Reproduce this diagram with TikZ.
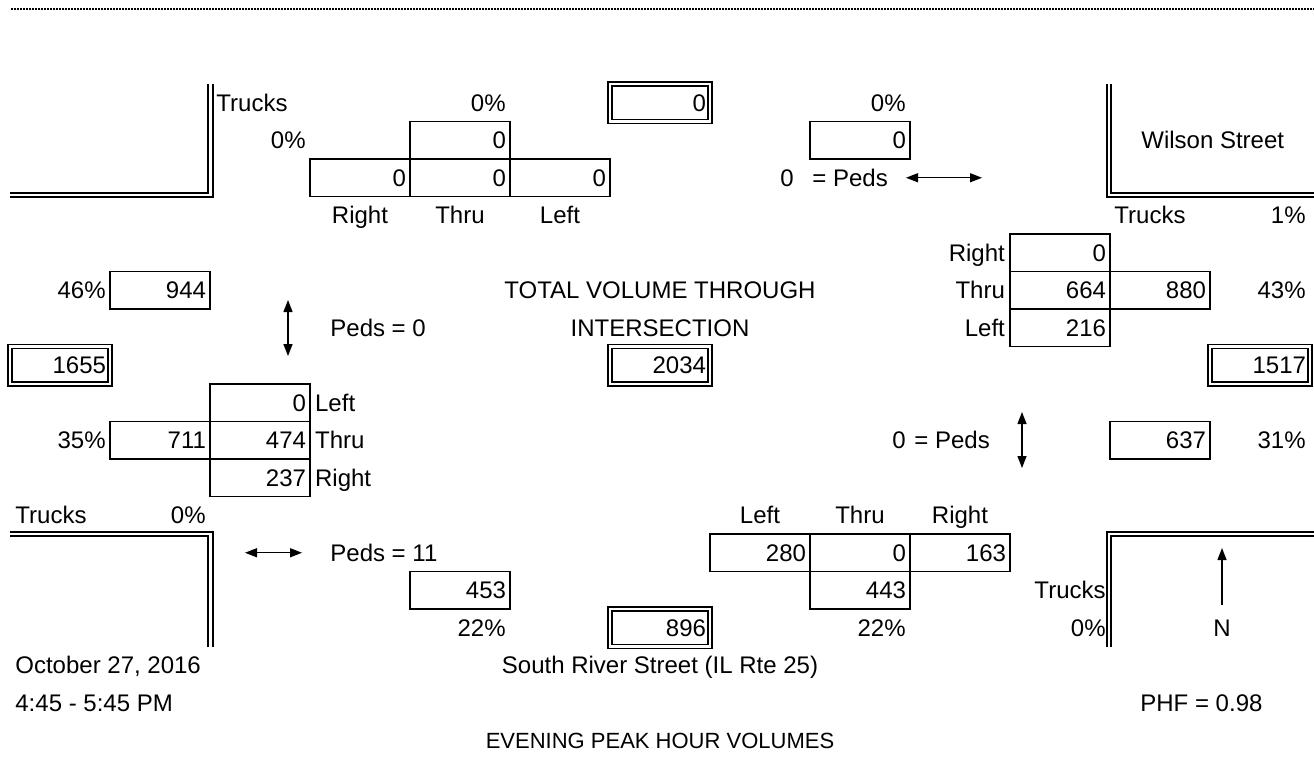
\documentclass[tikz,border=0pt]{standalone}
\usepackage{fontspec}
\setmainfont{Liberation Sans}
\usepackage{tikz}
\usetikzlibrary{shapes, arrows.meta, positioning}
\tikzstyle{cell} = [draw, rectangle, line width=0.75pt, minimum height=18.75pt, minimum width=50pt, text width=46pt, align=right, inner xsep=2pt, inner ysep=0pt, text height=8.6pt, text depth=0pt]
\tikzstyle{dcell} = [cell, double, double distance=1.25pt]
\tikzstyle{lbl} = [inner sep=2pt, text height=8.6pt, text depth=0pt]
\tikzstyle{rlbl} = [lbl, anchor=east]
\tikzstyle{llbl} = [lbl, anchor=west]
\tikzstyle{road} = [line width=1pt]
\tikzstyle{ped} = [line width=0.7pt]

\begin{document}
\begin{tikzpicture}[auto, x=0.5pt, y=-0.5pt, node distance=50pt, >={Triangle[length=6pt, width=4.5pt]}, font=\fontsize{12}{14}\selectfont]
        \useasboundingbox (0,0) rectangle (1314,757);

        % 顶部虚线
        \draw [line width=1.3pt, dash pattern=on 1pt off 0.5pt] (11,9) -- (1314,9);

        % 路口边线
        \draw [road] (10,193) -- (208,193) -- (208,84);
        \draw [road] (10,197) -- (213,197) -- (213,84);
        \draw [road] (1314,193) -- (1111,193) -- (1111,84);
        \draw [road] (1314,197) -- (1107,197) -- (1107,84);
        \draw [road] (10,532) -- (213,532) -- (213,647);
        \draw [road] (10,536) -- (208,536) -- (208,647);
        \draw [road] (1314,532) -- (1107,532) -- (1107,647);
        \draw [road] (1314,536) -- (1111,536) -- (1111,647);

        % 北进口
        \node [cell] (sbR) at (360,177.75) {0};
        \node [cell, right of=sbR] (sbT) {0};
        \node [cell, right of=sbT] (sbL) {0};
        \node [cell, above of=sbT, node distance=18.75pt] (sbIn) {0};
        \node [lbl, below of=sbR, node distance=18.75pt] (sbRlbl) {Right};
        \node [lbl, below of=sbT, node distance=18.75pt] (sbTlbl) {Thru};
        \node [lbl, below of=sbL, node distance=18.75pt] (sbLlbl) {Left};
        \node [llbl] (sbTrk) at (212,102.75) {Trucks};
        \node [rlbl] (sbTrkPct) at (310,140.25) {0\%};
        \node [rlbl] (sbInPct) at (510,102.75) {0\%};
        \node [dcell] (sbLeg) at (660,102.75) {0};
        \node [cell] (sbOut) at (860,140.25) {0};
        \node [rlbl] (sbOutPct) at (910,102.75) {0\%};
        \node [lbl] (sbPedNum) at (787,177.75) {0};
        \node [llbl] (sbPed) at (808,177.75) {= Peds};
        \node [llbl] (wst) at (1137,140.25) {Wilson Street};

        % 东进口
        \node [cell] (wbT) at (1060,290.25) {664};
        \node [cell, above of=wbT, node distance=18.75pt] (wbR) {0};
        \node [cell, below of=wbT, node distance=18.75pt] (wbL) {216};
        \node [cell, right of=wbT] (wbIn) {880};
        \node [lbl, left=0pt of wbR] (wbRlbl) {Right};
        \node [lbl, left=0pt of wbT] (wbTlbl) {Thru};
        \node [lbl, left=0pt of wbL] (wbLlbl) {Left};
        \node [llbl] (wbTrk) at (1110,215.25) {Trucks};
        \node [rlbl] (wbTrkPct) at (1310,215.25) {1\%};
        \node [rlbl] (wbInPct) at (1310,290.25) {43\%};
        \node [dcell] (wbLeg) at (1260,365.25) {1517};
        \node [cell] (wbOut) at (1160,440.25) {637};
        \node [rlbl] (wbOutPct) at (1310,440.25) {31\%};
        \node [rlbl] (wbPedNum) at (910,440.25) {0};
        \node [llbl] (wbPed) at (910,440.25) {= Peds};

        % 西进口
        \node [cell] (ebT) at (260,440.25) {474};
        \node [cell, above of=ebT, node distance=18.75pt] (ebL) {0};
        \node [cell, below of=ebT, node distance=18.75pt] (ebR) {237};
        \node [cell, left of=ebT] (ebIn) {711};
        \node [lbl, right=0pt of ebL] (ebLlbl) {Left};
        \node [lbl, right=0pt of ebT] (ebTlbl) {Thru};
        \node [lbl, right=0pt of ebR] (ebRlbl) {Right};
        \node [rlbl] (ebInPct) at (110,440.25) {35\%};
        \node [cell] (ebOut) at (160,290.25) {944};
        \node [rlbl] (ebOutPct) at (110,290.25) {46\%};
        \node [dcell] (ebLeg) at (60,365.25) {1655};
        \node [llbl] (ebPed) at (326,327.75) {Peds = 0};
        \node [llbl] (ebTrk) at (11,515.25) {Trucks};
        \node [rlbl] (ebTrkPct) at (210,515.25) {0\%};

        % 南进口
        \node [cell] (nbL) at (760,552.75) {280};
        \node [cell, right of=nbL] (nbT) {0};
        \node [cell, right of=nbT] (nbR) {163};
        \node [cell, below of=nbT, node distance=18.75pt] (nbIn) {443};
        \node [lbl, above of=nbL, node distance=18.75pt] (nbLlbl) {Left};
        \node [lbl, above of=nbT, node distance=18.75pt] (nbTlbl) {Thru};
        \node [lbl, above of=nbR, node distance=18.75pt] (nbRlbl) {Right};
        \node [rlbl] (nbInPct) at (910,627.75) {22\%};
        \node [rlbl] (nbTrk) at (1110,590.25) {Trucks};
        \node [rlbl] (nbTrkPct) at (1110,627.75) {0\%};
        \node [cell] (nbOut) at (460,590.25) {453};
        \node [rlbl] (nbOutPct) at (510,627.75) {22\%};
        \node [dcell] (nbLeg) at (660,627.75) {896};
        \node [llbl] (nbPed) at (326,552.75) {Peds = 11};

        % 中心总量
        \node [lbl] (totA) at (660,290.25) {TOTAL VOLUME THROUGH};
        \node [lbl] (totB) at (660,327.75) {INTERSECTION};
        \node [dcell] (tot) at (660,365.25) {2034};

        % 行人箭头
        \coordinate (sbPedA) at (906,177.75);
        \coordinate (sbPedB) at (982,177.75);
        \coordinate (wbPedA) at (1022,412);
        \coordinate (wbPedB) at (1022,468);
        \coordinate (ebPedA) at (288,300);
        \coordinate (ebPedB) at (288,356);
        \coordinate (nbPedA) at (245,552.75);
        \coordinate (nbPedB) at (302,552.75);
        \draw [<->, ped] (sbPedA) -- (sbPedB);
        \draw [<->, ped] (wbPedA) -- (wbPedB);
        \draw [<->, ped] (ebPedA) -- (ebPedB);
        \draw [<->, ped] (nbPedA) -- (nbPedB);

        % 指北针
        \coordinate (nTail) at (1222,605);
        \coordinate (nHead) at (1222,548);
        \draw [->, ped] (nTail) -- (nHead);
        \node [lbl] (nLbl) at (1222,627.75) {N};

        % 底部说明
        \node [llbl] (date) at (11,665.25) {October 27, 2016};
        \node [lbl] (street) at (660,665.25) {South River Street (IL Rte 25)};
        \node [llbl] (time) at (11,702.75) {4:45 - 5:45 PM};
        \node [llbl] (phf) at (1136,702.75) {PHF = 0.98};
        \node [lbl, font=\fontsize{11}{13}\selectfont, text height=7.9pt] (title) at (660,740.25) {EVENING PEAK HOUR VOLUMES};
    \end{tikzpicture}
\end{document}
